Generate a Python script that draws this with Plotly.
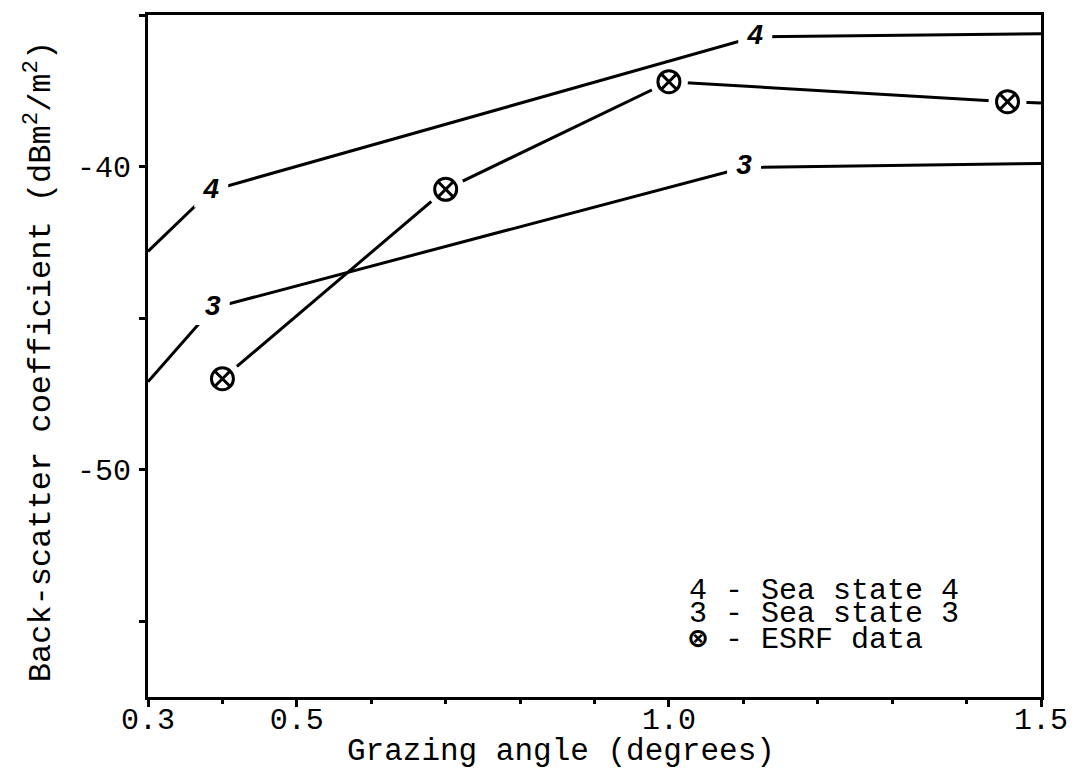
import plotly.graph_objects as go

# Sea state model curves (grazing angle in degrees, back-scatter in dB m^2/m^2)
ss4_x = [0.3, 0.385, 1.116, 1.5]
ss4_y = [-42.8, -40.79, -35.72, -35.62]

ss3_x = [0.3, 0.387, 1.101, 1.5]
ss3_y = [-47.1, -44.67, -40.03, -39.9]

# Curve labels sit on the bends of each curve
ss4_label_x = [0.385, 1.116]
ss4_label_y = [-40.79, -35.72]
ss3_label_x = [0.387, 1.101]
ss3_label_y = [-44.67, -40.03]

# Measured ESRF data points, and the joining line carried to the plot edge
esrf_x = [0.4, 0.7, 1.0, 1.455]
esrf_y = [-47.0, -40.75, -37.2, -37.86]
esrf_line_x = esrf_x + [1.5]
esrf_line_y = esrf_y + [-37.9]

x_tickvals = [0.3, 0.5, 1.0, 1.5]
x_ticktext = ["0.3", "0.5", "1.0", "1.5"]
y_tickvals = [-55, -50, -45, -40, -35]
y_ticktext = ["", "-50", "", "-40", ""]

legend_lines = ["4 - Sea state 4", "3 - Sea state 3", "<b>⊗</b> - ESRF data"]

MONO = "Liberation Mono, Courier New, monospace"
INK = "black"

fig = go.Figure()

# ESRF joining line with white halos so the line stops short of each symbol
fig.add_trace(go.Scatter(x=esrf_line_x, y=esrf_line_y, mode="lines",
                         line=dict(color=INK, width=3), hoverinfo="skip"))
fig.add_trace(go.Scatter(x=esrf_x, y=esrf_y, mode="markers",
                         marker=dict(symbol="circle", size=38, color="white",
                                     line=dict(width=0)),
                         hoverinfo="skip"))

# Sea state curves
for xs, ys in ((ss4_x, ss4_y), (ss3_x, ss3_y)):
    fig.add_trace(go.Scatter(x=xs, y=ys, mode="lines",
                             line=dict(color=INK, width=3), hoverinfo="skip"))

# Curve numbers placed in breaks of the lines
for xs, ys, lab in ((ss4_label_x, ss4_label_y, "4"),
                    (ss3_label_x, ss3_label_y, "3")):
    fig.add_trace(go.Scatter(
        x=xs, y=ys, mode="markers+text",
        marker=dict(symbol="square", size=34, color="white", line=dict(width=0)),
        text=[f"<b><i>{lab}</i></b>"] * len(xs),
        textposition="middle center",
        textfont=dict(family="Liberation Sans, Arial, sans-serif", size=28, color=INK),
        hoverinfo="skip"))

# ESRF symbols
fig.add_trace(go.Scatter(x=esrf_x, y=esrf_y, mode="markers",
                         marker=dict(symbol="circle-x", size=22, color="white",
                                     line=dict(color=INK, width=3)),
                         hoverinfo="skip"))

# Key in the lower right of the plot
key_y = [0.156, 0.121, 0.083]
for txt, yy in zip(legend_lines, key_y):
    fig.add_annotation(x=0.604, y=yy, xref="paper", yref="paper",
                       xanchor="left", yanchor="middle", text=txt,
                       showarrow=False, font=dict(family=MONO, size=30, color=INK))

# Axis titles
fig.add_annotation(x=0.462, y=-0.080, xref="paper", yref="paper",
                   xanchor="center", yanchor="middle",
                   text="Grazing angle (degrees)", showarrow=False,
                   font=dict(family=MONO, size=31, color=INK))
fig.add_annotation(x=-0.122, y=0.491, xref="paper", yref="paper",
                   xanchor="center", yanchor="middle", textangle=-90,
                   text="Back-scatter coefficient (dBm<sup>2</sup>/m<sup>2</sup>)",
                   showarrow=False, font=dict(family=MONO, size=32, color=INK))

fig.update_layout(
    width=1080, height=768, autosize=False,
    margin=dict(l=148, r=29, t=13, b=71),
    paper_bgcolor="white", plot_bgcolor="white",
    showlegend=False,
    font=dict(family=MONO, size=30, color=INK),
)

fig.update_xaxes(
    range=[0.3, 1.5], showgrid=False, zeroline=False,
    showline=True, linewidth=3, linecolor=INK, mirror=True,
    ticks="outside", ticklen=7, tickwidth=3, tickcolor=INK,
    tickvals=x_tickvals, ticktext=x_ticktext,
    tickfont=dict(family=MONO, size=30, color=INK),
    ticklabelstandoff=-14,
    minor=dict(tick0=0.3, dtick=0.1, ticks="outside", ticklen=4,
               tickwidth=3, tickcolor=INK, showgrid=False),
)
fig.update_yaxes(
    range=[-57.5, -35], showgrid=False, zeroline=False,
    showline=True, linewidth=3, linecolor=INK, mirror=True,
    ticks="outside", ticklen=6, tickwidth=3, tickcolor=INK,
    tickvals=y_tickvals, ticktext=y_ticktext,
    tickfont=dict(family=MONO, size=30, color=INK),
    ticklabelstandoff=2,
)

fig.write_html("out.html")
